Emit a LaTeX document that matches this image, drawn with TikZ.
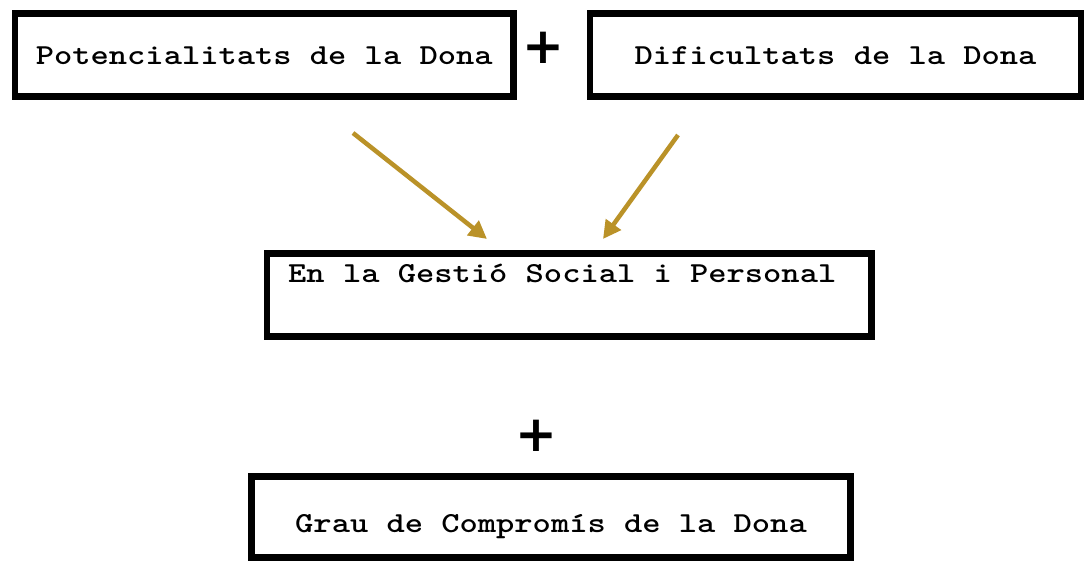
\documentclass[tikz,border=0pt]{standalone}
\usepackage{graphicx}
\usepackage{fontspec}
\usetikzlibrary{arrows.meta}

\newfontfamily\plusfont{DejaVu Sans}
\definecolor{arrowgold}{RGB}{186,146,40}

\newcommand{\boxfont}{\ttfamily\bfseries\fontsize{29}{34}\selectfont}
\newcommand{\wide}[1]{\scalebox{1.2}[1]{#1}}

\tikzset{
  box/.style={draw, line width=6.5pt, inner sep=0pt, font=\boxfont},
  plus/.style={font=\plusfont\bfseries\fontsize{50}{50}\selectfont, inner sep=0pt},
  arrow/.style={draw=arrowgold, line width=4.5pt, -{Triangle[length=18pt, width=18pt]}}
}

\begin{document}
\begin{tikzpicture}[x=1pt, y=-1pt]
    \useasboundingbox (0,0) rectangle (1084,561);
    \node[box, minimum width=498.5, minimum height=83, text height=38, text depth=18] (pot) at (264.25,55) {\wide{Potencialitats de la Dona}};
    \node[box, minimum width=491, minimum height=83, text height=38, text depth=18] (dif) at (835.5,55) {\wide{Dificultats de la Dona}};
    \node[plus] (plusA) at (543,48) {+};
    \node[box, minimum width=604.5, minimum height=83, text height=18, text depth=42] (gestio) at (569.25,295) {\wide{En la Gestió Social i Personal}\rule{14pt}{0pt}};
    \node[plus] (plusB) at (536,436) {+};
    \node[box, minimum width=599, minimum height=81, text height=48, text depth=18] (grau) at (551,517) {\wide{Grau de Compromís de la Dona}};
    % arrows
    \coordinate (potOut) at (353,133);
    \coordinate (gestioInL) at (487,239);
    \coordinate (difOut) at (678,135);
    \coordinate (gestioInR) at (603,239);
    \draw[arrow] (potOut) -- (gestioInL);
    \draw[arrow] (difOut) -- (gestioInR);
\end{tikzpicture}
\end{document}
